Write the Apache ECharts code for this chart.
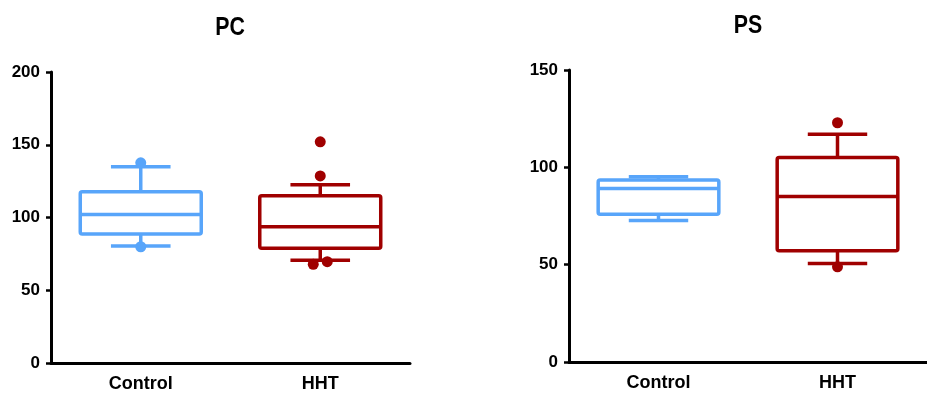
<!DOCTYPE html>
<html>
<head>
<meta charset="utf-8">
<script src="https://cdn.jsdelivr.net/npm/echarts@6/dist/echarts.min.js"></script>
<style>
  html, body { margin: 0; padding: 0; background: #fff; }
  #chart { width: 927px; height: 396px; }
</style>
</head>
<body>
<div id="chart"></div>
<script>
// Groups on each panel
const groups = ['Control', 'HHT'];
const panelTitles = ['PC', 'PS'];

// Box statistics: [lower whisker, Q1, median, Q3, upper whisker]
const pcControl = [80.4, 88.6, 102.1, 117.7, 134.8];
const pcHHT = [70.7, 78.8, 93.6, 114.9, 122.5];
const psControl = [72.7, 75.9, 89.1, 93.5, 95.1];
const psHHT = [50.6, 57.1, 85.0, 105.0, 117.0];

// Points outside the whiskers
const pcControlOut = [137.6, 79.9];
const pcHHTOut = [152.0, 128.6, 67.8, 69.6];
const psControlOut = [];
const psHHTOut = [122.9, 48.9];

// Axis ranges
const pcTicks = [0, 50, 100, 150, 200];
const psTicks = [0, 50, 100, 150];

const BLUE = '#58A5FA';
const RED = '#A00000';
const FONT = '"Liberation Sans", Arial, sans-serif';
const LW = 3.5;

function boxRender(color) {
  return function (params, api) {
    const ci = api.value(0);
    const pLow = api.coord([ci, api.value(1)]);
    const pQ1 = api.coord([ci, api.value(2)]);
    const pMed = api.coord([ci, api.value(3)]);
    const pQ3 = api.coord([ci, api.value(4)]);
    const pHigh = api.coord([ci, api.value(5)]);
    const band = api.size([1, 0])[0];
    const hw = band * 0.337;
    const cw = band * 0.166;
    const cx = pMed[0];
    const ls = { stroke: color, lineWidth: LW, fill: null, lineCap: 'butt', lineJoin: 'round' };
    return {
      type: 'group',
      children: [
        { type: 'line', shape: { x1: cx, y1: pQ3[1], x2: cx, y2: pHigh[1] }, style: ls },
        { type: 'line', shape: { x1: cx, y1: pQ1[1], x2: cx, y2: pLow[1] }, style: ls },
        { type: 'line', shape: { x1: cx - cw, y1: pHigh[1], x2: cx + cw, y2: pHigh[1] }, style: ls },
        { type: 'line', shape: { x1: cx - cw, y1: pLow[1], x2: cx + cw, y2: pLow[1] }, style: ls },
        { type: 'rect', shape: { x: cx - hw, y: pQ3[1], width: 2 * hw, height: pQ1[1] - pQ3[1], r: 2 },
          style: { stroke: color, lineWidth: LW, fill: '#fff' } },
        { type: 'line', shape: { x1: cx - hw, y1: pMed[1], x2: cx + hw, y2: pMed[1] }, style: ls }
      ]
    };
  };
}

function boxSeries(gi, catIndex, stats, color) {
  return {
    type: 'custom',
    xAxisIndex: gi, yAxisIndex: gi,
    renderItem: boxRender(color),
    encode: { x: 0, y: [1, 2, 3, 4, 5] },
    data: [[catIndex].concat(stats)],
    z: 2
  };
}

// Points that nearly coincide are spread sideways a little
function outlierSeries(gi, catIndex, values, color) {
  const data = values.map(function (v, i) {
    const near = values.findIndex(function (w, j) { return j !== i && Math.abs(w - v) < 4; });
    let off = 0;
    if (near >= 0) off = (v < values[near]) ? -7 : 7;
    return { value: [catIndex, v], symbolOffset: [off, 0] };
  });
  return {
    type: 'scatter',
    xAxisIndex: gi, yAxisIndex: gi,
    symbol: 'circle', symbolSize: 11,
    itemStyle: { color: color, opacity: 1 },
    data: data,
    z: 3
  };
}

function xAxisDef(gi) {
  return {
    type: 'category', gridIndex: gi, data: groups,
    axisLine: { lineStyle: { color: '#000', width: 3 } },
    axisTick: { show: false },
    axisLabel: { color: '#000', fontFamily: FONT, fontWeight: 'bold', fontSize: 18, margin: 12 },
    splitLine: { show: false }
  };
}

function yAxisDef(gi, ticks) {
  return {
    type: 'value', gridIndex: gi,
    min: ticks[0], max: ticks[ticks.length - 1], interval: ticks[1] - ticks[0],
    axisLine: { show: true, lineStyle: { color: '#000', width: 3 } },
    axisTick: { show: true, length: 5, lineStyle: { color: '#000', width: 2.5 } },
    axisLabel: { color: '#000', fontFamily: FONT, fontWeight: 'bold', fontSize: 17, margin: 11 },
    splitLine: { show: false }
  };
}

function titleText(text, cx, cy) {
  return {
    type: 'text', x: cx, y: cy, scaleX: 0.82,
    style: { text: text, fontFamily: FONT, fontWeight: 'bold', fontSize: 26, fill: '#000',
             align: 'center', verticalAlign: 'middle' }
  };
}

const chart = echarts.init(document.getElementById('chart'), null, { renderer: 'canvas' });
chart.setOption({
  animation: false,
  backgroundColor: '#fff',
  graphic: [
    titleText(panelTitles[0], 230, 28),
    titleText(panelTitles[1], 748, 26)
  ],
  grid: [
    { left: 51, width: 359, top: 72, bottom: 33 },
    { left: 569, width: 369, top: 70, bottom: 34 }
  ],
  xAxis: [xAxisDef(0), xAxisDef(1)],
  yAxis: [yAxisDef(0, pcTicks), yAxisDef(1, psTicks)],
  series: [
    boxSeries(0, 0, pcControl, BLUE),
    boxSeries(0, 1, pcHHT, RED),
    boxSeries(1, 0, psControl, BLUE),
    boxSeries(1, 1, psHHT, RED),
    outlierSeries(0, 0, pcControlOut, BLUE),
    outlierSeries(0, 1, pcHHTOut, RED),
    outlierSeries(1, 0, psControlOut, BLUE),
    outlierSeries(1, 1, psHHTOut, RED)
  ]
});
</script>
</body>
</html>
